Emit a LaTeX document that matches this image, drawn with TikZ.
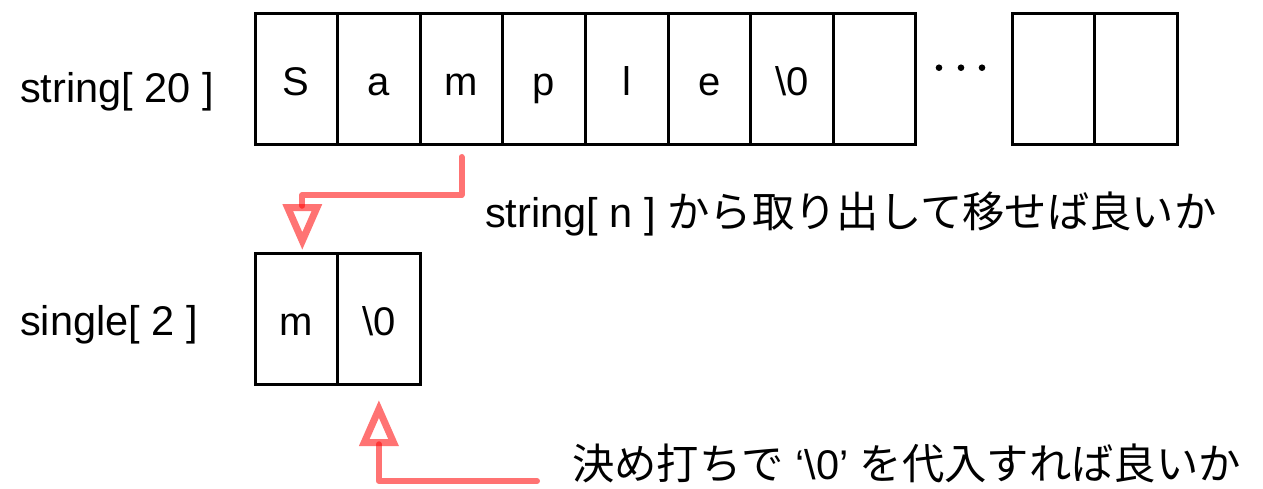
\documentclass[tikz,border=0pt]{standalone}
\usepackage{fontspec}
\setmainfont{Liberation Sans}
\newfontfamily\jpfont[Scale=1.02]{Noto Sans CJK JP}
\usepackage{tikz}
\usetikzlibrary{positioning,arrows.meta}
\tikzstyle{cell}=[draw, line width=3pt, minimum width=82.6pt, minimum height=131pt, outer sep=0pt, inner sep=0pt, text height=40pt, text depth=7pt, font=\fontsize{40}{48}\selectfont]
\tikzstyle{lbl}=[inner sep=0pt, font=\fontsize{41.5}{48}\selectfont]
\tikzstyle{pick}=[draw=red, draw opacity=0.55, line width=6pt, line cap=round, line join=round, -{Triangle[open, length=46pt, width=38pt, line width=7pt]}]

\begin{document}
\begin{tikzpicture}[x=1pt,y=-1pt]
	\useasboundingbox (0,0) rectangle (1263,488);
	% string[ 20 ]
	\node[cell] (s1) at (296.3,78.5) {S};
	\node[cell, right=0pt of s1] (s2) {a};
	\node[cell, right=0pt of s2] (s3) {m};
	\node[cell, right=0pt of s3] (s4) {p};
	\node[cell, right=0pt of s4] (s5) {l};
	\node[cell, right=0pt of s5] (s6) {e};
	\node[cell, right=0pt of s6] (s7) {\textbackslash0};
	\node[cell, right=0pt of s7] (s8) {};
	\foreach \x in {939,961,982}
		\fill (\x,67.7) circle (3.3pt);
	\node[cell] (s19) at (1053.5,78.5) {};
	\node[cell, right=0pt of s19] (s20) {};
	% single[ 2 ]
	\node[cell] (g1) at (296.3,318.5) {m};
	\node[cell, right=0pt of g1] (g2) {\textbackslash0};
	% labels
	\node[lbl, anchor=base west] (strname) at (20,102) {string[ 20 ]};
	\node[lbl, anchor=base west] (sglname) at (20,335) {single[ 2 ]};
	\node[lbl, anchor=west] (move) at (485,214) {string[ n ] {\jpfont から取り出して移せば良いか}};
	\node[lbl, anchor=west] (fix) at (572,463) {{\jpfont 決め打ちで} ‘\textbackslash0’ {\jpfont を代入すれば良いか}};
	% arrows
	\draw[pick] ([yshift=-13pt]s3.south) -- ++(0,38) -| ([xshift=6pt,yshift=3pt]g1.north);
	\coordinate (fixstart) at (537,481);
	\draw[pick] (fixstart) -| ([yshift=-16pt]g2.south);
\end{tikzpicture}
\end{document}
